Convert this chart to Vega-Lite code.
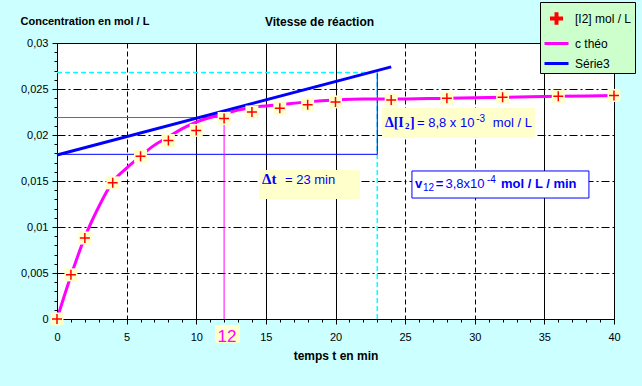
{
  "$schema": "https://vega.github.io/schema/vega-lite/v6.json",
  "width": 557,
  "height": 276,
  "autosize": {"type": "none"},
  "padding": {"left": 57, "top": 43, "right": 28, "bottom": 67},
  "background": "#CCFFFF",
  "config": {
    "view": {"fill": "white", "stroke": "black", "strokeWidth": 1},
    "font": "Liberation Sans",
    "axis": {"labelFont": "Liberation Sans", "titleFont": "Liberation Sans"}
  },
  "title": {"text": "Vitesse de réaction", "font": "Liberation Sans", "fontSize": 12, "fontWeight": "bold", "color": "black", "anchor": "middle", "frame": "group", "dx": -16, "offset": -27},
  "datasets": {
    "pts": [
      {"t": 0, "c": 0, "s": "[I2] mol / L"},
      {"t": 1, "c": 0.0048, "s": "[I2] mol / L"},
      {"t": 2, "c": 0.0088, "s": "[I2] mol / L"},
      {"t": 4, "c": 0.0148, "s": "[I2] mol / L"},
      {"t": 6, "c": 0.0177, "s": "[I2] mol / L"},
      {"t": 8, "c": 0.0194, "s": "[I2] mol / L"},
      {"t": 10, "c": 0.0205, "s": "[I2] mol / L"},
      {"t": 12, "c": 0.0218, "s": "[I2] mol / L"},
      {"t": 14, "c": 0.0225, "s": "[I2] mol / L"},
      {"t": 16, "c": 0.0229, "s": "[I2] mol / L"},
      {"t": 18, "c": 0.0233, "s": "[I2] mol / L"},
      {"t": 20, "c": 0.0236, "s": "[I2] mol / L"},
      {"t": 24, "c": 0.0238, "s": "[I2] mol / L"},
      {"t": 28, "c": 0.0240, "s": "[I2] mol / L"},
      {"t": 32, "c": 0.0241, "s": "[I2] mol / L"},
      {"t": 36, "c": 0.0242, "s": "[I2] mol / L"},
      {"t": 40, "c": 0.0243, "s": "[I2] mol / L"}
    ]
  },
  "encoding": {
    "x": {
      "field": "t", "type": "quantitative",
      "scale": {"domain": [0, 40], "nice": false, "zero": false},
      "axis": {
        "values": [0,1,2,3,4,5,6,7,8,9,10,11,12,13,14,15,16,17,18,19,20,21,22,23,24,25,26,27,28,29,30,31,32,33,34,35,36,37,38,39,40],
        "format": "d",
        "labelExpr": "datum.value % 5 === 0 ? datum.label : ''",
        "labelOverlap": false, "labelFlush": false, "labelBound": false,
        "labelFontSize": 11, "labelColor": "black", "labelPadding": 7,
        "title": "temps t en min", "titleFontSize": 12, "titleFontWeight": "bold", "titleColor": "black", "titlePadding": 8,
        "domainColor": "black", "tickColor": "black",
        "tickSize": {"condition": {"test": "datum.value % 5 === 0", "value": 5}, "value": 3},
        "grid": true, "gridColor": "black", "gridWidth": 1,
        "gridOpacity": {"condition": {"test": "datum.value % 5 === 0 && datum.value > 0 && datum.value < 40", "value": 1}, "value": 0},
        "gridDash": {"condition": {"test": "datum.value === 5 || datum.value === 25 || datum.value === 30", "value": [5, 3]}, "value": []}
      }
    },
    "y": {
      "field": "c", "type": "quantitative",
      "scale": {"domain": [0, 0.03], "nice": false},
      "axis": {
        "values": [0,0.001,0.002,0.003,0.004,0.005,0.006,0.007,0.008,0.009,0.01,0.011,0.012,0.013,0.014,0.015,0.016,0.017,0.018,0.019,0.02,0.021,0.022,0.023,0.024,0.025,0.026,0.027,0.028,0.029,0.03],
        "labelExpr": "abs(datum.value*200 - round(datum.value*200)) < 1e-6 ? replace(format(datum.value, '~g'), '.', ',') : ''",
        "labelOverlap": false, "labelFlush": false, "labelBound": false,
        "labelFontSize": 11, "labelColor": "black", "labelPadding": 4,
        "title": "Concentration en mol / L", "titleAngle": 0, "titleX": -37, "titleY": -19, "titleAlign": "left", "titleBaseline": "alphabetic",
        "titleFontSize": 11, "titleFontWeight": "bold", "titleColor": "black",
        "domainColor": "black", "tickColor": "black",
        "tickSize": {"condition": {"test": "abs(datum.value*200 - round(datum.value*200)) < 1e-6", "value": 5}, "value": 3},
        "grid": true, "gridColor": "black", "gridWidth": 1,
        "gridOpacity": {"condition": {"test": "abs(datum.value*200 - round(datum.value*200)) < 1e-6 && datum.value > 0.001 && datum.value < 0.029", "value": 1}, "value": 0},
        "gridDash": [8, 3, 2, 3]
      }
    }
  },
  "layer": [
    {
      "data": {"values": [{"t": 0, "c": 0.0268, "t2": 23, "c2": 0.0268}, {"t": 23, "c": 0, "t2": 23, "c2": 0.0268}]},
      "mark": {"type": "rule", "color": "#00FFFF", "strokeDash": [5, 3], "strokeWidth": 1.5},
      "encoding": {"x2": {"field": "t2"}, "y2": {"field": "c2"}}
    },
    {
      "data": {"values": [{"t": 0, "c": 0.0179, "t2": 23, "c2": 0.0179}, {"t": 23, "c": 0.0179, "t2": 23, "c2": 0.0268}]},
      "mark": {"type": "rule", "color": "#0000FF", "strokeWidth": 1},
      "encoding": {"x2": {"field": "t2"}, "y2": {"field": "c2"}}
    },
    {
      "data": {"values": [{"t": 0, "c": 0.0219, "t2": 12, "c2": 0.0219}, {"t": 12, "c": 0, "t2": 12, "c2": 0.0219}]},
      "mark": {"type": "rule", "color": "#FF00FF", "strokeWidth": 1},
      "encoding": {"x2": {"field": "t2"}, "y2": {"field": "c2"}}
    },
    {
      "data": {"values": [
        {"t": 0, "c": 0, "s": "c théo"},
        {"t": 1, "c": 0.0047, "s": "c théo"},
        {"t": 2, "c": 0.0089, "s": "c théo"},
        {"t": 3, "c": 0.0122, "s": "c théo"},
        {"t": 4, "c": 0.0149, "s": "c théo"},
        {"t": 5, "c": 0.0164, "s": "c théo"},
        {"t": 6, "c": 0.0177, "s": "c théo"},
        {"t": 7, "c": 0.0189, "s": "c théo"},
        {"t": 8, "c": 0.0198, "s": "c théo"},
        {"t": 9, "c": 0.0207, "s": "c théo"},
        {"t": 10, "c": 0.0214, "s": "c théo"},
        {"t": 11, "c": 0.0219, "s": "c théo"},
        {"t": 12, "c": 0.0223, "s": "c théo"},
        {"t": 13, "c": 0.0227, "s": "c théo"},
        {"t": 14, "c": 0.0230, "s": "c théo"},
        {"t": 16, "c": 0.0233, "s": "c théo"},
        {"t": 18, "c": 0.0236, "s": "c théo"},
        {"t": 20, "c": 0.0238, "s": "c théo"},
        {"t": 22, "c": 0.0239, "s": "c théo"},
        {"t": 24, "c": 0.0239, "s": "c théo"},
        {"t": 28, "c": 0.0240, "s": "c théo"},
        {"t": 32, "c": 0.0241, "s": "c théo"},
        {"t": 36, "c": 0.0242, "s": "c théo"},
        {"t": 40, "c": 0.0243, "s": "c théo"}
      ]},
      "mark": {"type": "line", "strokeWidth": 3, "interpolate": "monotone"},
      "encoding": {
        "color": {"field": "s", "type": "nominal",
          "scale": {"domain": ["[I2] mol / L", "c théo", "Série3"], "range": ["#FF0000", "#FF00FF", "#0000FF"]},
          "legend": {"title": null, "orient": "none", "legendX": 483, "legendY": -41, "fillColor": "#CCFFCC", "strokeColor": "black", "padding": 3,
            "labelFont": "Liberation Sans", "labelFontSize": 12, "labelColor": "black", "labelOffset": 5,
            "symbolType": "stroke", "symbolSize": 576, "symbolStrokeWidth": 3, "rowPadding": -1.5,
            "encode": {"symbols": {"update": {
              "shape": {"signal": "datum.value === '[I2] mol / L' ? 'M-0.42,-0.04H0.42V0.04H-0.42Z M-0.04,-0.4H0.04V0.4H-0.04Z' : 'stroke'"},
              "fill": {"signal": "datum.value === '[I2] mol / L' ? '#FF0000' : 'transparent'"},
              "stroke": {"signal": "datum.value === '[I2] mol / L' ? 'transparent' : (datum.value === 'c théo' ? '#FF00FF' : '#0000FF')"}
            }}}}
        }
      }
    },
    {
      "data": {"values": [{"t": 0, "c": 0.01783, "s": "Série3"}, {"t": 24, "c": 0.0274, "s": "Série3"}]},
      "mark": {"type": "line", "strokeWidth": 3},
      "encoding": {
        "color": {"field": "s", "type": "nominal",
          "scale": {"domain": ["[I2] mol / L", "c théo", "Série3"], "range": ["#FF0000", "#FF00FF", "#0000FF"]}}
      }
    },
    {
      "data": {"name": "pts"},
      "mark": {"type": "point", "shape": "square", "filled": true, "color": "#FFFFCC", "opacity": 1, "size": 169, "strokeWidth": 0}
    },
    {
      "data": {"name": "pts"},
      "mark": {"type": "point", "shape": "M-1,0H1M0,-1V1", "filled": false, "opacity": 1, "size": 100, "strokeWidth": 1.5},
      "encoding": {
        "color": {"field": "s", "type": "nominal",
          "scale": {"domain": ["[I2] mol / L", "c théo", "Série3"], "range": ["#FF0000", "#FF00FF", "#0000FF"]}}
      }
    },
    {
      "data": {"values": [
        {"t": 23.34, "c": 0.02293, "t2": 34.33, "c2": 0.01967},
        {"t": 14.51, "c": 0.0162, "t2": 21.76, "c2": 0.01304},
        {"t": 11.35, "c": -0.00065, "t2": 13.15, "c2": -0.0026}
      ]},
      "mark": {"type": "rect", "fill": "#FFFFCC"},
      "encoding": {"x2": {"field": "t2"}, "y2": {"field": "c2"}}
    },
    {
      "data": {"values": [{"t": 25.49, "c": 0.01609, "t2": 38.2, "c2": 0.01315}]},
      "mark": {"type": "rect", "fill": "white", "stroke": "#0000FF", "strokeWidth": 1},
      "encoding": {"x2": {"field": "t2"}, "y2": {"field": "c2"}}
    },
    {
      "data": {"values": [
        {"t": 23.55, "c": 0.0209, "label": "Δ[I"},
        {"t": 25.35, "c": 0.0209, "label": "]"}
      ]},
      "mark": {"type": "text", "font": "Liberation Serif", "fontWeight": "bold", "fontSize": 14, "color": "#0000FF", "align": "left", "baseline": "alphabetic"},
      "encoding": {"text": {"field": "label"}}
    },
    {
      "data": {"values": [{"t": 24.99, "c": 0.02065, "label": "2"}]},
      "mark": {"type": "text", "font": "Liberation Serif", "fontWeight": "bold", "fontSize": 9, "color": "#0000FF", "align": "left", "baseline": "alphabetic"},
      "encoding": {"text": {"field": "label"}}
    },
    {
      "data": {"values": [{"t": 14.72, "c": 0.01467, "label": "Δt"}]},
      "mark": {"type": "text", "font": "Liberation Serif", "fontWeight": "bold", "fontSize": 15, "color": "#0000FF", "align": "left", "baseline": "alphabetic"},
      "encoding": {"text": {"field": "label"}}
    },
    {
      "data": {"values": [
        {"t": 25.85, "c": 0.0209, "label": "= 8,8 x 10"},
        {"t": 16.37, "c": 0.01467, "label": "= 23 min"},
        {"t": 27.9, "c": 0.01424, "label": "3,8x10"},
        {"t": 31.3, "c": 0.0209, "label": "mol / L"}
      ]},
      "mark": {"type": "text", "font": "Liberation Sans", "fontSize": 13, "color": "#0000FF", "align": "left", "baseline": "alphabetic"},
      "encoding": {"text": {"field": "label"}}
    },
    {
      "data": {"values": [
        {"t": 30.1, "c": 0.0214, "label": "-3"},
        {"t": 30.88, "c": 0.01478, "label": "-4"},
        {"t": 26.28, "c": 0.01391, "label": "12"}
      ]},
      "mark": {"type": "text", "font": "Liberation Sans", "fontSize": 10, "color": "#0000FF", "align": "left", "baseline": "alphabetic"},
      "encoding": {"text": {"field": "label"}}
    },
    {
      "data": {"values": [
        {"t": 25.71, "c": 0.01424, "label": "v"},
        {"t": 27.2, "c": 0.01424, "label": "="},
        {"t": 31.88, "c": 0.01424, "label": "mol / L / min"}
      ]},
      "mark": {"type": "text", "font": "Liberation Sans", "fontWeight": "bold", "fontSize": 13, "color": "#0000FF", "align": "left", "baseline": "alphabetic"},
      "encoding": {"text": {"field": "label"}}
    },
    {
      "data": {"values": [{"t": 12.2, "c": -0.0025, "label": "12"}]},
      "mark": {"type": "text", "font": "Liberation Sans", "fontSize": 17, "color": "#FF00FF", "align": "center", "baseline": "alphabetic"},
      "encoding": {"text": {"field": "label"}}
    }
  ]
}
